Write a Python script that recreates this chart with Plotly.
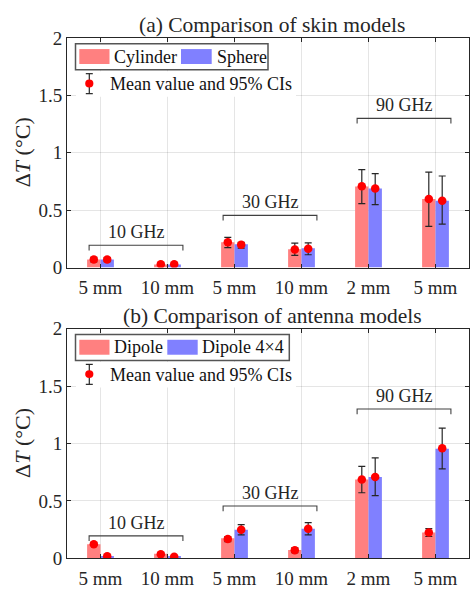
import plotly.graph_objects as go

# ---------------- data ----------------
tick_labels = ["5 mm", "10 mm", "5 mm", "10 mm", "2 mm", "5 mm"]
positions = [1, 2, 3, 4, 5, 6]

# (a) skin models
cyl_bar = [0.07, 0.028, 0.22, 0.16, 0.706, 0.597]
cyl_mean = [0.07, 0.03, 0.22, 0.157, 0.709, 0.597]
cyl_hi = [0.09, 0.038, 0.263, 0.213, 0.854, 0.832]
cyl_lo = [0.05, 0.022, 0.174, 0.106, 0.557, 0.359]
sph_bar = [0.07, 0.028, 0.204, 0.168, 0.689, 0.583]
sph_mean = [0.07, 0.03, 0.20, 0.165, 0.689, 0.583]
sph_hi = [0.088, 0.038, 0.22, 0.216, 0.818, 0.798]
sph_lo = [0.052, 0.022, 0.17, 0.112, 0.549, 0.378]

# (b) antenna models
dip_bar = [0.123, 0.039, 0.174, 0.073, 0.686, 0.224]
dip_mean = [0.123, 0.036, 0.168, 0.07, 0.686, 0.224]
dip_hi = [0.134, 0.045, 0.19, 0.09, 0.80, 0.258]
dip_lo = [0.112, 0.027, 0.146, 0.05, 0.571, 0.19]
d44_bar = [0.02, 0.02, 0.249, 0.258, 0.709, 0.955]
d44_mean = [0.017, 0.014, 0.249, 0.258, 0.709, 0.958]
d44_hi = [0.022, 0.019, 0.294, 0.31, 0.874, 1.134]
d44_lo = [0.012, 0.009, 0.204, 0.204, 0.546, 0.779]

groups = ["10 GHz", "30 GHz", "90 GHz"]
group_x0 = [0.83, 2.83, 4.83]
group_x1 = [2.23, 4.23, 6.23]
group_y = [0.195, 0.455, 1.30]

titles = ["(a) Comparison of skin models", "(b) Comparison of antenna models"]
series_names = [["Cylinder", "Sphere"], ["Dipole", "Dipole 4×4"]]

RED = "rgb(255,128,128)"
BLUE = "rgb(128,128,255)"
FONT = "Liberation Serif"
W, H = 471, 597


def px(x):
    return x / W


def py(y):
    return 1 - y / H


fig = go.Figure()

panels = [
    (cyl_bar, cyl_mean, cyl_hi, cyl_lo, sph_bar, sph_mean, sph_hi, sph_lo),
    (dip_bar, dip_mean, dip_hi, dip_lo, d44_bar, d44_mean, d44_hi, d44_lo),
]

axis_top_px = [29.0, 330.3]
axis_bot_px = [267.0, 568.3]
x_left, x_right = 67.0, 469.0

shapes = []
annotations = []

for p, data in enumerate(panels):
    b1, m1, h1, l1, b2, m2, h2, l2 = data
    xa = "x" if p == 0 else "x2"
    ya = "y" if p == 0 else "y2"
    for bars, col, off in ((b1, RED, -0.1), (b2, BLUE, 0.1)):
        fig.add_trace(go.Bar(
            x=[v + off for v in positions], y=bars, width=0.2,
            marker=dict(color=col, line=dict(width=0)),
            xaxis=xa, yaxis=ya, showlegend=False))
    for mean, hi, lo, off in ((m1, h1, l1, -0.1), (m2, h2, l2, 0.1)):
        fig.add_trace(go.Scatter(
            x=[v + off for v in positions], y=mean, mode="markers",
            marker=dict(color="red", size=8.5),
            error_y=dict(type="data", symmetric=False,
                         array=[h - m for h, m in zip(hi, mean)],
                         arrayminus=[m - l for m, l in zip(mean, lo)],
                         color="#262626", thickness=1.2, width=3.5),
            xaxis=xa, yaxis=ya, showlegend=False))

    # group brackets
    for g, x0, x1, yb in zip(groups, group_x0, group_x1, group_y):
        shapes.append(dict(type="path", xref=xa, yref=ya,
                           path=f"M {x0},{yb-0.045} L {x0},{yb} L {x1},{yb} L {x1},{yb-0.045}",
                           line=dict(color="#404040", width=1.1)))
        annotations.append(dict(xref=xa, yref=ya, x=(x0 + x1) / 2, y=yb + 0.115,
                                text=g, showarrow=False,
                                font=dict(family=FONT, size=18, color="#262626")))

    # title
    annotations.append(dict(xref="paper", yref="paper", x=px(272), y=py(axis_top_px[p] - 13),
                            text=titles[p], showarrow=False, xanchor="center", yanchor="middle",
                            font=dict(family=FONT, size=21.5, color="#262626")))
    # y-axis title
    annotations.append(dict(xref="paper", yref="paper", x=px(22.5),
                            y=py((axis_top_px[p] + axis_bot_px[p]) / 2),
                            text="Δ<i>T</i> (°C)", showarrow=False, textangle=-90,
                            xanchor="center", yanchor="middle",
                            font=dict(family=FONT, size=22, color="#262626")))

    # legend (drawn manually)
    dy = axis_top_px[p] - 29.0
    box_right = 268.0 if p == 0 else 289.3
    shapes.append(dict(type="rect", xref="paper", yref="paper",
                       x0=px(75.5), x1=px(box_right), y0=py(35 + dy), y1=py(62 + dy),
                       fillcolor="white", line=dict(color="#555555", width=1.5), layer="above"))
    names = series_names[p]
    if p == 0:
        r1, t1, r2, t2 = (79.3, 109.5), 111.5, (181.0, 211.7), 214.5
    else:
        r1, t1, r2, t2 = (79.3, 109.5), 111.7, (167.3, 197.7), 200.0
    for (rx0, rx1), col in ((r1, RED), (r2, BLUE)):
        shapes.append(dict(type="rect", xref="paper", yref="paper",
                           x0=px(rx0), x1=px(rx1), y0=py(40.5 + dy), y1=py(56 + dy),
                           fillcolor=col, line=dict(width=0), layer="above"))
    for tx, name in ((t1, names[0]), (t2, names[1])):
        annotations.append(dict(xref="paper", yref="paper", x=px(tx), y=py(48.5 + dy),
                                text=name, showarrow=False, xanchor="left", yanchor="middle",
                                font=dict(family=FONT, size=18, color="#111111")))
    # error bar legend row
    shapes.append(dict(type="rect", xref="paper", yref="paper",
                       x0=px(76), x1=px(296), y0=py(63.5 + dy), y1=py(90 + dy),
                       fillcolor="white", line=dict(width=0), layer="above"))
    for seg in ((89.3, 66, 89.3, 86.7), (85.8, 66, 92.8, 66), (85.8, 86.7, 92.8, 86.7)):
        shapes.append(dict(type="line", xref="paper", yref="paper",
                           x0=px(seg[0]), y0=py(seg[1] + dy), x1=px(seg[2]), y1=py(seg[3] + dy),
                           line=dict(color="#262626", width=1.2), layer="above"))
    shapes.append(dict(type="circle", xref="paper", yref="paper",
                       x0=px(85.2), x1=px(93.4), y0=py(72 + dy), y1=py(80.2 + dy),
                       fillcolor="red", line=dict(width=0), layer="above"))
    annotations.append(dict(xref="paper", yref="paper", x=px(107.5), y=py(76.5 + dy),
                            text="Mean value and 95% CIs", showarrow=False,
                            xanchor="left", yanchor="middle",
                            font=dict(family=FONT, size=18, color="#111111")))

xaxis_common = dict(range=[0.5, 6.5], tickvals=positions, ticktext=tick_labels,
                    showgrid=True, gridcolor="rgba(0,0,0,0.1)", gridwidth=1,
                    showline=True, linecolor="#262626", linewidth=1, mirror="ticks",
                    ticks="inside", ticklen=4, tickcolor="#262626", ticklabelstandoff=3,
                    tickfont=dict(family=FONT, size=19, color="#262626"),
                    zeroline=False, fixedrange=True)
yaxis_common = dict(range=[0, 2], tickvals=[0, 0.5, 1, 1.5, 2],
                    ticktext=["0", "0.5", "1", "1.5", "2"],
                    showgrid=True, gridcolor="rgba(0,0,0,0.1)", gridwidth=1,
                    showline=True, linecolor="#262626", linewidth=1, mirror="ticks",
                    ticks="inside", ticklen=4, tickcolor="#262626",
                    tickfont=dict(family=FONT, size=19, color="#262626"),
                    zeroline=False, fixedrange=True)

fig.update_layout(
    width=W, height=H,
    margin=dict(l=0, r=0, t=0, b=0),
    paper_bgcolor="white", plot_bgcolor="white",
    showlegend=False,
    xaxis=dict(domain=[px(x_left), px(x_right)], anchor="y", **xaxis_common),
    yaxis=dict(domain=[py(axis_bot_px[0]), py(axis_top_px[0])], anchor="x", **yaxis_common),
    xaxis2=dict(domain=[px(x_left), px(x_right)], anchor="y2", **xaxis_common),
    yaxis2=dict(domain=[py(axis_bot_px[1]), py(axis_top_px[1])], anchor="x2", **yaxis_common),
    shapes=shapes,
    annotations=annotations,
)

fig.write_html("out.html")
